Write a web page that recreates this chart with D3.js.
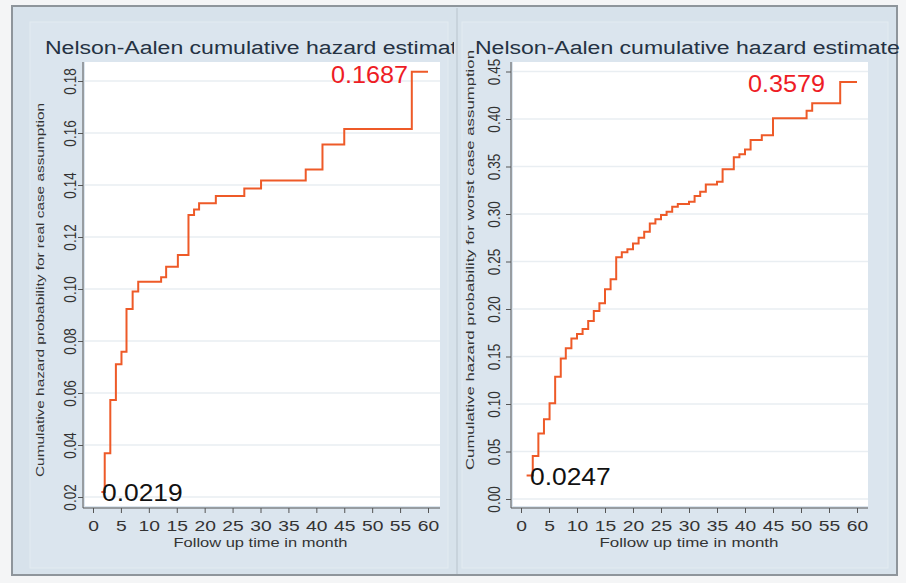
<!DOCTYPE html>
<html>
<head>
<meta charset="utf-8">
<script src="https://cdn.jsdelivr.net/npm/d3@7"></script>
<style>
  body { margin: 0; background: #fff; }
  text { font-family: Arial, "Liberation Sans", sans-serif; }
</style>
</head>
<body>
<div id="chart"></div>
<script>
// values
const realTimes   = [1.5, 2.1, 3.1, 4.1, 5.1, 6.0, 7.1, 8.1, 12.2, 13.1, 15.2, 17.1, 18.1, 19.0, 22.0, 27.1, 30.1, 38.1, 41.1, 45.0, 57.1, 60];
const realHazard  = [0.0219, 0.0368, 0.0573, 0.0711, 0.0759, 0.0923, 0.0990, 0.1028, 0.1045, 0.1086, 0.1131, 0.1285, 0.1306, 0.1330, 0.1358, 0.1387, 0.1417, 0.1460, 0.1556, 0.1615, 0.1836, 0.1836];
const worstTimes  = [1.0, 2.1, 3.1, 4.1, 5.1, 6.1, 7.1, 8.0, 9.0, 10.0, 11.0, 12.0, 13.0, 14.0, 15.0, 16.0, 17.0, 18.0, 19.0, 20.0, 21.0, 22.0, 23.0, 24.0, 25.0, 26.0, 27.0, 28.0, 30.0, 31.0, 32.0, 33.0, 35.0, 36.0, 38.0, 39.0, 40.0, 41.0, 43.0, 45.0, 51.0, 52.0, 57.0, 60];
const worstHazard = [0.0247, 0.0453, 0.0690, 0.0839, 0.1007, 0.1288, 0.1480, 0.1586, 0.1690, 0.1737, 0.1790, 0.1874, 0.1979, 0.2060, 0.2207, 0.2313, 0.2544, 0.2598, 0.2628, 0.2690, 0.2750, 0.2814, 0.2900, 0.2944, 0.2990, 0.3025, 0.3077, 0.3105, 0.3130, 0.3190, 0.3235, 0.3310, 0.3340, 0.3470, 0.3597, 0.3630, 0.3680, 0.3780, 0.3830, 0.4007, 0.4088, 0.4165, 0.4390, 0.4390];

const xTicks      = [0, 5, 10, 15, 20, 25, 30, 35, 40, 45, 50, 55, 60];
const realYTicks  = [0.02, 0.04, 0.06, 0.08, 0.10, 0.12, 0.14, 0.16, 0.18];
const worstYTicks = [0.00, 0.05, 0.10, 0.15, 0.20, 0.25, 0.30, 0.35, 0.40, 0.45];

const titles      = ["Nelson-Aalen cumulative hazard estimates", "Nelson-Aalen cumulative hazard estimate"];
const yTitles     = ["Cumulative hazard probability for real case assumption", "Cumulative hazard probability for worst case assumption"];
const xTitles     = ["Follow up time in month", "Follow up  time in month"];
const startLabels = ["0.0219", "0.0247"];
const endLabels   = ["0.1687", "0.3579"];

const W = 906, H = 583;
const SX = 1.28;            // the picture is stretched sideways, text too
const lineColor = '#ee5a28';

const svg = d3.select('#chart').append('svg')
    .attr('width', W)
    .attr('height', H);

// frame and panel backgrounds
svg.append('rect').attr('x', 0).attr('y', 0).attr('width', W).attr('height', H).attr('fill', '#f4f5f6');
svg.append('rect')
    .attr('x', 12).attr('y', 6).attr('width', 885).attr('height', 569)
    .attr('fill', '#d7e2eb')
    .attr('stroke', '#8e959b')
    .attr('stroke-width', 2);
svg.append('rect').attr('x', 30).attr('y', 22).attr('width', 418).attr('height', 546)
    .attr('fill', '#dbe5ee').attr('stroke', '#e3ebf1');
svg.append('rect').attr('x', 462).attr('y', 22).attr('width', 426).attr('height', 546)
    .attr('fill', '#dbe5ee').attr('stroke', '#e3ebf1');
svg.append('line').attr('x1', 457).attr('x2', 457).attr('y1', 8).attr('y2', 574)
    .attr('stroke', '#c3ced7').attr('stroke-width', 1.5);

svg.append('defs').append('clipPath').attr('id', 'leftClip')
    .append('rect').attr('x', 0).attr('y', 0).attr('width', 454).attr('height', H);

const panels = [
    { times: realTimes, hazard: realHazard, yTicks: realYTicks, yDomain: [0.02, 0.18], yRange: [497, 81],
      xRange: [93, 428], box: [83, 440, 62, 508], tickOff: 7, yTitleX: 44, yTitleLen: 374, yTitleY: 290,
      titleX: 45, clip: true, xTitleLen: 174,
      startPos: [102, 501], endPos: [408, 83] },
    { times: worstTimes, hazard: worstHazard, yTicks: worstYTicks, yDomain: [0, 0.45], yRange: [499, 71.5],
      xRange: [521, 857], box: [511, 868, 62, 508], tickOff: 11, yTitleX: 474, yTitleLen: 420, yTitleY: 260,
      titleX: 475, clip: false, xTitleLen: 179,
      startPos: [530, 485], endPos: [825, 92] }
];

function wideText(g, x, y, txt, size, color, anchor, sx) {
    return g.append('text')
        .attr('transform', `translate(${x},${y}) scale(${sx},1)`)
        .attr('text-anchor', anchor)
        .style('font-size', size + 'px')
        .attr('fill', color)
        .text(txt);
}

panels.forEach((p, i) => {
    const g = svg.append('g');
    const [bx0, bx1, by0, by1] = p.box;

    const x = d3.scaleLinear().domain([0, 60]).range(p.xRange);
    const y = d3.scaleLinear().domain(p.yDomain).range(p.yRange);

    // plot region
    g.append('rect')
        .attr('x', bx0 + 2).attr('y', by0)
        .attr('width', bx1 - bx0 - 2).attr('height', by1 - by0 - 2)
        .attr('fill', '#ffffff');

    // grid lines
    g.selectAll('.grid').data(p.yTicks).enter().append('line')
        .attr('x1', bx0 + 2).attr('x2', bx1)
        .attr('y1', d => y(d)).attr('y2', d => y(d))
        .attr('stroke', '#e9eef2')
        .attr('stroke-width', 1.5);

    // axes
    const xAxis = g.append('g')
        .attr('transform', `translate(0,${by1})`)
        .call(d3.axisBottom(x).tickValues(xTicks).tickSize(5).tickSizeOuter(0).tickFormat(d3.format('d')));
    xAxis.select('.domain').remove();
    xAxis.selectAll('line').attr('stroke', '#555');
    xAxis.selectAll('text')
        .attr('y', 0).attr('dy', 0)
        .attr('transform', `translate(0,23) scale(${SX + 0.05},1)`)
        .style('font-size', '14.5px')
        .attr('fill', '#333');

    const yAxis = g.append('g')
        .attr('transform', `translate(${bx0},0)`)
        .call(d3.axisLeft(y).tickValues(p.yTicks).tickSize(5).tickSizeOuter(0).tickFormat(d3.format('.2f')));
    yAxis.select('.domain').remove();
    yAxis.selectAll('line').attr('stroke', '#555');
    yAxis.selectAll('text')
        .attr('x', 0).attr('dy', 0)
        .attr('text-anchor', 'middle')
        .attr('transform', `translate(${-p.tickOff},0) rotate(-90) scale(1,${SX})`)
        .style('font-size', '13.5px')
        .attr('fill', '#333');

    g.append('line').attr('x1', bx0).attr('x2', bx0).attr('y1', by0).attr('y2', by1).attr('stroke', '#555');
    g.append('line').attr('x1', bx0).attr('x2', bx1).attr('y1', by1).attr('y2', by1).attr('stroke', '#555');

    // step line
    const pts = p.times.map((t, k) => [t, p.hazard[k]]);
    g.append('path')
        .datum(pts)
        .attr('fill', 'none')
        .attr('stroke', lineColor)
        .attr('stroke-width', 2)
        .attr('d', d3.line().x(d => x(d[0])).y(d => y(d[1])).curve(d3.curveStepAfter));

    // first and last value labels
    wideText(g, p.startPos[0], p.startPos[1], startLabels[i], 24, '#111', 'start', 1.1);
    wideText(g, p.endPos[0], p.endPos[1], endLabels[i], 24, '#ee1c25', 'end', 1.05);

    // axis titles
    g.append('text')
        .attr('transform', `translate(${p.yTitleX},${p.yTitleY}) rotate(-90)`)
        .attr('text-anchor', 'middle')
        .attr('textLength', p.yTitleLen)
        .attr('lengthAdjust', 'spacingAndGlyphs')
        .style('font-size', '11.5px')
        .attr('fill', '#333')
        .text(yTitles[i]);

    const xMid = (p.xRange[0] + p.xRange[1]) / 2;
    g.append('text')
        .attr('x', xMid - p.xTitleLen / 2).attr('y', 547)
        .attr('textLength', p.xTitleLen)
        .attr('lengthAdjust', 'spacingAndGlyphs')
        .style('font-size', '13.5px')
        .attr('fill', '#333')
        .text(xTitles[i]);

    // panel title (the left one is cut off by the right panel)
    const t = wideText(g, p.titleX, 54, titles[i], 18, '#253243', 'start', SX);
    if (p.clip) {
        const cg = svg.append('g').attr('clip-path', 'url(#leftClip)');
        cg.node().appendChild(t.node());
    }
});
</script>
</body>
</html>
